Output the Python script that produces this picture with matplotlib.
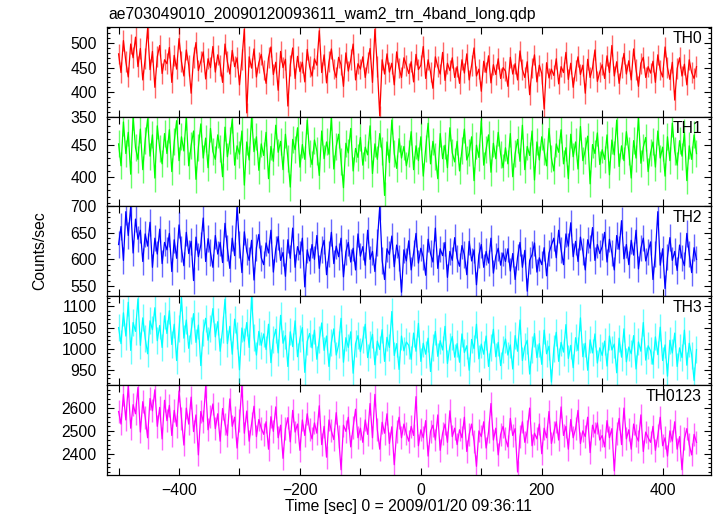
import numpy as np
import matplotlib
matplotlib.use("Agg")
import matplotlib.pyplot as plt
from matplotlib.ticker import MultipleLocator, FuncFormatter

plt.rcParams['font.family'] = ['Liberation Sans', 'DejaVu Sans']

TITLE = "ae703049010_20090120093611_wam2_trn_4band_long.qdp"
XLABEL = "Time [sec] 0 = 2009/01/20 09:36:11"
YLABEL = "Counts/sec"
T0 = -500.0   # time of first bin (s)
DT = 4.0      # bin width (s)

names = ["TH0", "TH1", "TH2", "TH3", "TH0123"]
colors = ["#ff0000", "#00ff00", "#0000ff", "#00ffff", "#ff00ff"]
errors = [21, 21, 25, 32, 50]   # typical 1-sigma error per bin (counts/sec)

th0 = [
 478,440,505,462,431,498,470,512,452,489,425,468,530,446,483,410,472,495,438,466,
 458,491,420,475,447,509,462,433,486,455,398,470,501,444,463,482,427,468,450,493,
 441,476,455,420,498,462,437,485,452,470,415,466,528,358,472,449,488,431,460,477,
 445,418,470,492,436,461,404,483,450,467,372,455,490,428,473,442,461,421,487,452,
 433,468,455,525,440,476,419,462,488,447,430,471,456,412,480,443,466,498,425,458,
 447,472,430,461,489,420,528,452,352,466,437,478,441,459,415,482,449,430,470,455,
 438,462,421,477,446,455,493,428,466,441,408,472,452,437,481,424,459,444,470,430,
 452,418,466,439,478,425,455,490,433,447,402,463,440,474,419,456,436,468,428,450,
 443,412,471,437,458,425,484,446,430,462,395,449,476,421,455,438,366,460,429,447,
 434,468,417,452,440,481,426,459,410,444,472,436,455,398,467,430,449,486,422,441,
 456,428,474,440,495,433,462,418,450,479,437,464,425,488,446,412,459,471,430,452,
 439,463,420,476,445,431,492,450,426,461,384,448,470,433,457,415,466,440,428,452]

th1 = [
 452,418,486,437,470,405,494,446,428,475,412,458,491,433,466,399,480,445,421,468,
 437,474,409,455,488,426,463,441,494,418,450,472,397,447,483,430,461,415,476,440,
 428,466,445,401,478,432,457,490,419,449,436,472,388,455,427,494,440,463,411,452,
 434,470,398,448,425,481,439,456,412,467,430,385,459,443,477,416,451,428,489,437,
 420,458,441,403,472,429,455,436,494,413,448,467,425,384,453,438,476,410,445,431,
 462,419,447,435,480,406,452,428,468,441,372,455,423,489,437,414,460,430,448,418,
 437,471,412,449,426,463,402,445,484,421,456,433,398,468,429,450,415,477,438,424,
 456,410,442,475,427,438,463,395,450,431,488,419,444,466,408,453,429,470,436,415,
 446,421,468,401,437,459,425,481,412,448,434,472,396,455,427,463,440,418,476,430,
 410,452,439,474,421,446,398,467,432,455,413,479,426,442,464,390,451,437,469,420,
 443,428,466,404,458,435,489,417,449,426,471,441,399,457,430,494,422,447,462,409,
 438,455,416,472,430,447,402,463,426,484,441,419,457,433,470,395,449,428,466,437]

th2 = [
 628,662,598,690,645,700,612,676,638,655,596,648,625,670,585,640,610,657,592,632,
 618,649,577,637,602,665,620,588,651,611,634,560,642,605,627,678,596,639,613,585,
 645,610,632,594,668,621,583,640,607,700,628,575,652,615,598,636,561,622,647,603,
 590,631,612,655,576,620,643,598,613,568,637,602,659,585,624,609,640,548,618,597,
 628,600,645,583,619,636,571,610,651,592,625,605,640,567,614,632,595,621,580,648,
 606,624,589,655,600,615,577,632,700,598,562,620,609,644,586,627,603,538,618,597,
 635,580,612,649,593,621,604,570,638,611,595,659,583,620,607,632,566,615,598,641,
 602,587,626,609,571,634,597,618,552,608,628,585,615,593,640,574,606,621,589,612,
 596,620,578,611,562,604,632,585,617,540,598,609,631,576,603,590,622,569,612,627,
 640,603,655,618,590,648,625,669,605,634,596,642,615,580,637,621,660,598,628,611,
 624,651,595,638,612,580,645,619,673,601,628,590,636,608,655,582,621,640,597,614,
 633,562,610,690,589,620,545,604,641,598,615,579,627,603,588,649,610,575,622,600]

th3 = [
 1050,1012,1085,1030,1110,996,1062,1041,1118,1008,1073,1025,988,1066,1045,1097,1019,1055,1003,1078,
 1036,1090,1010,1058,972,1047,1121,1025,1068,1001,1042,1083,1015,1056,960,1038,1072,1020,1049,1095,
 1028,1064,994,1045,1117,1012,1053,987,1070,1031,950,1049,1018,1062,1003,1124,1027,985,1041,1008,
 1035,998,1058,967,1022,1046,990,1079,1013,1031,958,1040,1005,1066,981,1024,1050,944,1017,1036,
 1002,1044,975,1021,1061,996,1030,958,1015,1047,985,1009,1072,968,1026,1003,1040,942,1012,1031,
 993,1022,1058,979,1010,1034,962,1018,998,1045,970,1027,1003,1088,984,1012,951,1030,995,1016,
 1008,975,1037,994,1060,970,1013,987,1025,946,1004,1041,982,1019,997,1053,965,1006,1029,980,
 1012,968,1035,991,1007,949,1022,1000,1058,976,1011,987,1030,958,1004,1046,981,1015,960,998,
 1023,985,1009,952,1031,994,1068,972,1005,1020,940,997,1036,979,1012,963,1044,988,1006,921,
 1001,1039,970,1015,992,1057,977,1008,955,1026,996,1073,981,1013,949,1021,990,1035,966,1002,
 984,1018,959,1030,997,1011,943,1025,980,1047,969,1004,988,1031,952,1016,994,1062,973,1007,
 995,963,1028,986,1051,972,1009,935,1020,990,1037,958,1002,979,1044,961,1013,985,925,998]

th0123 = [
 2585,2530,2660,2548,2700,2512,2615,2575,2690,2495,2628,2560,2470,2642,2588,2680,2520,2603,2465,2634,
 2545,2612,2480,2590,2520,2675,2555,2438,2600,2530,2648,2497,2570,2395,2585,2540,2695,2505,2562,2618,
 2510,2575,2455,2598,2530,2480,2640,2520,2560,2425,2545,2700,2490,2587,2455,2532,2608,2475,2550,2512,
 2485,2540,2420,2562,2498,2605,2470,2525,2380,2510,2558,2452,2590,2495,2530,2415,2548,2480,2575,2505,
 2465,2535,2490,2610,2440,2520,2385,2548,2500,2462,2580,2475,2330,2525,2498,2560,2430,2515,2595,2470,
 2512,2450,2548,2485,2620,2470,2660,2505,2420,2538,2490,2575,2445,2518,2352,2496,2560,2470,2530,2488,
 2455,2520,2480,2650,2435,2505,2470,2545,2390,2498,2525,2460,2570,2415,2490,2530,2450,2588,2475,2512,
 2440,2505,2470,2560,2410,2485,2530,2455,2345,2500,2475,2540,2425,2495,2620,2460,2512,2395,2485,2520,
 2468,2430,2555,2480,2510,2320,2475,2540,2450,2498,2600,2435,2490,2465,2530,2400,2512,2470,2585,2445,
 2495,2540,2460,2605,2480,2520,2420,2550,2470,2510,2590,2445,2500,2475,2560,2405,2525,2490,2535,2460,
 2480,2430,2545,2470,2510,2325,2490,2555,2440,2600,2465,2505,2420,2530,2480,2455,2570,2410,2495,2470,
 2450,2520,2415,2480,2560,2435,2470,2390,2500,2455,2540,2420,2475,2330,2465,2510,2440,2395,2485,2450]

series = [th0, th1, th2, th3, th0123]
ylims = [(350, 532), (355, 494), (531, 700), (913, 1125), (2307, 2699)]
ymajor = [50, 50, 50, 50, 100]
yminor = [10, 10, 10, 10, 20]
xlim = (-520, 480)

W, H = 717, 516
fig = plt.figure(figsize=(W / 100, H / 100), dpi=100)
left_px, right_px = 106.5, 711.0
top_px, bot_px = 27.3, 475.0
ph = (bot_px - top_px) / 5

FS = 11.3
axes = []
for i in range(5):
    y_top = top_px + i * ph
    ax = fig.add_axes([left_px / W, 1 - (y_top + ph) / H, (right_px - left_px) / W, ph / H])
    vals = np.asarray(series[i], dtype=float)
    t = T0 + DT * np.arange(len(vals))
    ax.errorbar(t, vals, yerr=errors[i], fmt='none', ecolor=colors[i], elinewidth=1.0,
                alpha=0.6, capsize=0)
    ax.plot(t, vals, color=colors[i], lw=0.9)
    ax.set_xlim(*xlim)
    ax.set_ylim(*ylims[i])
    ax.yaxis.set_major_locator(MultipleLocator(ymajor[i]))
    ax.yaxis.set_minor_locator(MultipleLocator(yminor[i]))
    ax.xaxis.set_major_locator(MultipleLocator(100))
    ax.xaxis.set_major_formatter(FuncFormatter(
        lambda v, p: ("\u2212%d" % -v if v < 0 else "%d" % v) if int(round(v)) % 200 == 0 else ""))
    ax.tick_params(which='both', direction='in', top=True, right=True, labelsize=FS, width=0.8)
    ax.tick_params(which='major', length=5, pad=7)
    ax.tick_params(axis='x', which='major', pad=5.5)
    ax.tick_params(which='minor', length=2.5)
    ax.tick_params(axis='x', which='minor', bottom=False, top=False)
    if i < 4:
        ax.tick_params(axis='x', labelbottom=False)
    for s in ax.spines.values():
        s.set_linewidth(0.9)
    ax.text(0.985, 0.955, names[i], transform=ax.transAxes, ha='right', va='top', fontsize=FS)
    axes.append(ax)

axes[-1].set_xlabel(XLABEL, fontsize=FS, labelpad=1)
fig.text(left_px / W + 0.002, 1 - 14.5 / H, TITLE, ha='left', va='center', fontsize=FS)
fig.text(40 / W, 1 - 251 / H, YLABEL, rotation=90, ha='center', va='center', fontsize=FS)

fig.savefig("out.png", dpi=100)
